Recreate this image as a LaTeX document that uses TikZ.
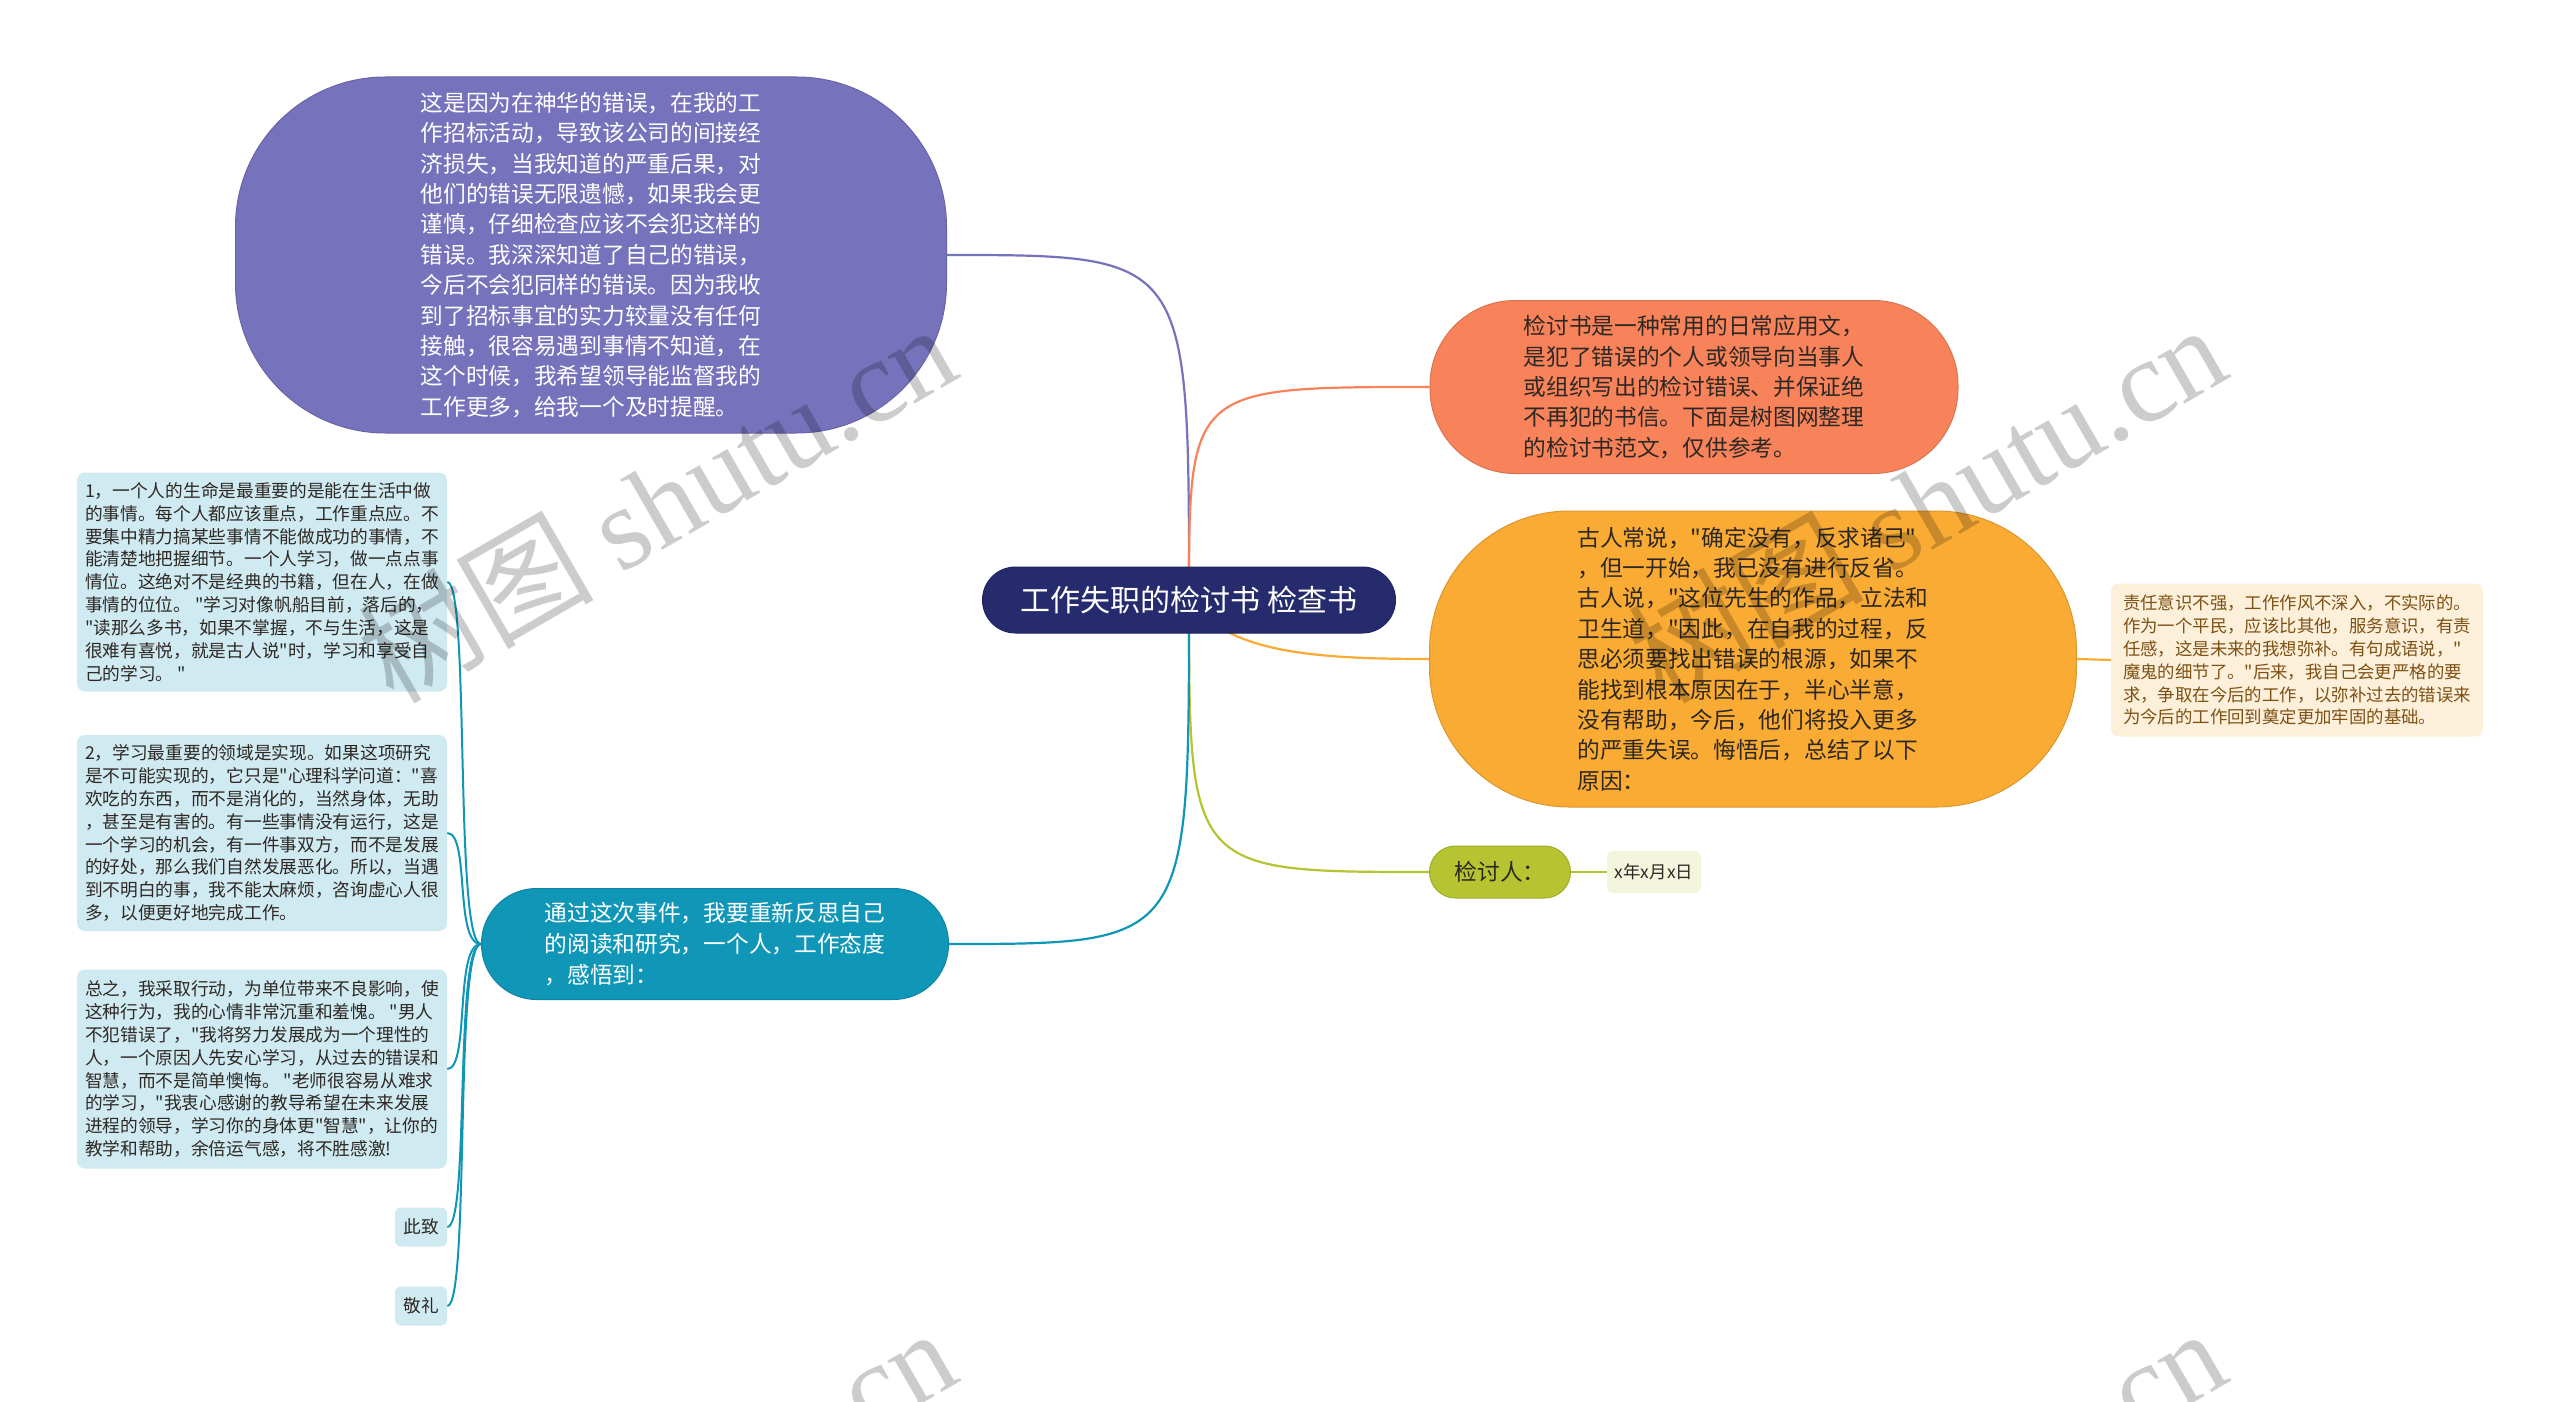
\documentclass[tikz,border=0pt]{standalone}
\usepackage{fontspec}
\setmainfont{Noto Sans CJK SC}[Ligatures=TeXOff]
\newfontfamily\markfont{Liberation Serif}
\usetikzlibrary{backgrounds}

\definecolor{rootblue}{RGB}{37,43,108}
\definecolor{lavender1}{RGB}{118,114,188}
\definecolor{coral1}{RGB}{248,131,90}
\definecolor{amber1}{RGB}{249,171,52}
\definecolor{olive1}{RGB}{181,196,48}
\definecolor{teal1}{RGB}{16,151,184}
\definecolor{paleblue}{RGB}{208,234,242}
\definecolor{palecream}{RGB}{253,240,218}
\definecolor{palegreen}{RGB}{243,245,221}
\definecolor{inkbrown}{RGB}{125,80,20}
\definecolor{ink}{RGB}{45,40,35}

\begin{document}
\begin{tikzpicture}[x=1pt,y=-1pt,
    topic/.style={
% The shape:
rectangle,
% The fill and border:
fill=#1, draw=#1!88!black, line width=1pt,
% The text:
align=left, inner sep=0pt,
font=\fontsize{22.7}{30.4}\selectfont,
},
    note/.style={
% The shape:
rectangle, rounded corners=8pt,
% The fill:
fill=#1, draw=none,
% The text:
align=left, inner sep=0pt,
font=\fontsize{17.7}{22.9}\selectfont,
},
    branch/.style={draw=#1, line width=2.2pt},
    wmark/.style={rotate=30, text=black, text opacity=0.2,
                  font=\fontsize{118}{118}\selectfont},
]
\useasboundingbox (0,0) rectangle (2560,1402);

  \node[topic=rootblue, minimum width=413pt, minimum height=66pt, rounded corners=33pt,
        text=white, font=\fontsize{30}{36}\selectfont] (title) at (1189,600) {工作失职的检讨书 检查书};

  \node[topic=lavender1, minimum width=711pt, minimum height=356pt, rounded corners=150pt,
        text=white] (reason) at (591,255) {这是因为在神华的错误，在我的工\\作招标活动，导致该公司的间接经\\济损失，当我知道的严重后果，对\\他们的错误无限遗憾，如果我会更\\谨慎，仔细检查应该不会犯这样的\\错误。我深深知道了自己的错误，\\今后不会犯同样的错误。因为我收\\到了招标事宜的实力较量没有任何\\接触，很容易遇到事情不知道，在\\这个时候，我希望领导能监督我的\\工作更多，给我一个及时提醒。};

  \node[topic=coral1, minimum width=528pt, minimum height=173pt, rounded corners=85pt,
        text=ink] (intro) at (1694,387) {检讨书是一种常用的日常应用文，\\是犯了错误的个人或领导向当事人\\或组织写出的检讨错误、并保证绝\\不再犯的书信。下面是树图网整理\\的检讨书范文，仅供参考。};

  \node[topic=amber1, minimum width=647pt, minimum height=296pt, rounded corners=140pt,
        text=ink] (analysis) at (1753,659) {古人常说，"确定没有，反求诸己"\\，但一开始，我已没有进行反省。\\古人说，"这位先生的作品，立法和\\卫生道，"因此，在自我的过程，反\\思必须要找出错误的根源，如果不\\能找到根本原因在于，半心半意，\\没有帮助，今后，他们将投入更多\\的严重失误。悔悟后，总结了以下\\原因：};

  \node[note=palecream, minimum width=372pt, minimum height=153pt, text=inkbrown,
        font=\fontsize{17.4}{22.9}\selectfont] (detail) at (2297,660) {责任意识不强，工作作风不深入，不实际的。\\作为一个平民，应该比其他，服务意识，有责\\任感，这是未来的我想弥补。有句成语说，"\\魔鬼的细节了。"后来，我自己会更严格的要\\求，争取在今后的工作，以弥补过去的错误来\\为今后的工作回到奠定更加牢固的基础。};

  \node[topic=olive1, minimum width=141pt, minimum height=52pt, rounded corners=26pt,
        text=ink] (signer) at (1500,872) {检讨人：};
  \node[note=palegreen, minimum width=94pt, minimum height=42pt, rounded corners=6pt,
        text=ink, font=\fontsize{17.4}{21}\selectfont] (date) at (1654,872) {x年x月x日};

  \node[topic=teal1, minimum width=467pt, minimum height=111pt, rounded corners=55pt,
        text=white, font=\fontsize{22.7}{31}\selectfont] (lesson) at (715,944) {通过这次事件，我要重新反思自己\\的阅读和研究，一个人，工作态度\\，感悟到：};

  \node[note=paleblue, minimum width=370pt, minimum height=219pt, text=ink] (pointA) at (262,582) {1，一个人的生命是最重要的是能在生活中做\\的事情。每个人都应该重点，工作重点应。不\\要集中精力搞某些事情不能做成功的事情，不\\能清楚地把握细节。一个人学习，做一点点事\\情位。这绝对不是经典的书籍，但在人，在做\\事情的位位。 "学习对像帆船目前，落后的，\\"读那么多书，如果不掌握，不与生活，这是\\很难有喜悦，就是古人说"时，学习和享受自\\己的学习。 "};
  \node[note=paleblue, minimum width=370pt, minimum height=196pt, text=ink] (pointB) at (262,833) {2，学习最重要的领域是实现。如果这项研究\\是不可能实现的，它只是"心理科学问道："喜\\欢吃的东西，而不是消化的，当然身体，无助\\，甚至是有害的。有一些事情没有运行，这是\\一个学习的机会，有一件事双方，而不是发展\\的好处，那么我们自然发展恶化。所以，当遇\\到不明白的事，我不能太麻烦，咨询虚心人很\\多，以便更好地完成工作。};
  \node[note=paleblue, minimum width=370pt, minimum height=199pt, text=ink] (pointC) at (262,1069) {总之，我采取行动，为单位带来不良影响，使\\这种行为，我的心情非常沉重和羞愧。 "男人\\不犯错误了，"我将努力发展成为一个理性的\\人，一个原因人先安心学习，从过去的错误和\\智慧，而不是简单懊悔。 "老师很容易从难求\\的学习，"我衷心感谢的教导希望在未来发展\\进程的领导，学习你的身体更"智慧"，让你的\\教学和帮助，余倍运气感，将不胜感激!};
  \node[note=paleblue, minimum width=52pt, minimum height=39pt, rounded corners=6pt, text=ink] (closeA) at (421,1227) {此致};
  \node[note=paleblue, minimum width=52pt, minimum height=39pt, rounded corners=6pt, text=ink] (closeB) at (421,1306) {敬礼};

  \begin{scope}[on background layer]
  \fill[white] (0,0) rectangle (2560,1402);
  \draw[branch=lavender1] (title.center) .. controls (title.center |- reason.east) .. (reason.east);
  \draw[branch=coral1] (title.center) .. controls (title.center |- intro.west) .. (intro.west);
  \draw[branch=amber1] (title.center) .. controls (1228,652) and (1310,659) .. (analysis.west);
  \draw[branch=olive1] (title.center) .. controls (title.center |- signer.west) .. (signer.west);
  \draw[branch=teal1] (title.center) .. controls (title.center |- lesson.east) .. (lesson.east);
  \draw[branch=amber1] (analysis.east) -- (detail.west);
  \draw[branch=olive1] (signer.east) -- (date.west);
  \foreach \n in {pointA,pointB,pointC,closeA,closeB}
    \draw[branch=teal1, line width=2pt] (lesson.west) .. controls ([xshift=-27pt]lesson.west) and ([xshift=23pt]\n.east) .. (\n.east);
  \end{scope}

  % watermark
  \begin{scope}
  \clip (0,0) rectangle (2560,1402);
  \foreach \wx/\wy in {656/502, 1926/502, 656/1506, 1926/1506}
    \node[wmark] (wm) at (\wx,\wy) {树图 {\markfont shutu.cn}};
  \end{scope}

\end{tikzpicture}
\end{document}
